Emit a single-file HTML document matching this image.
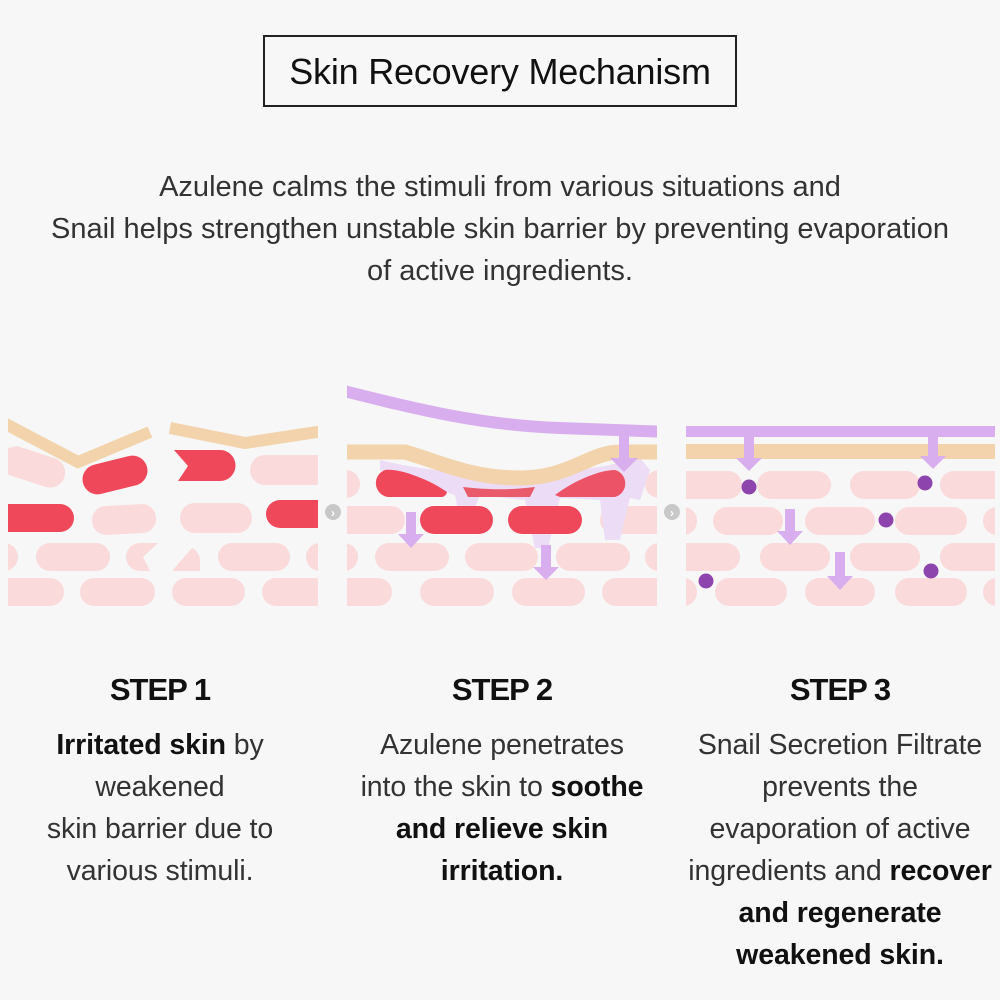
<!DOCTYPE html>
<html><head><meta charset="utf-8"><style>
html,body{margin:0;padding:0;background:#f7f7f7;}
body{width:1000px;height:1000px;position:relative;overflow:hidden;font-family:"Liberation Sans","DejaVu Sans",sans-serif;color:#222;}
.title{position:absolute;left:263px;top:35px;width:470px;height:68px;border:2px solid #222;box-sizing:content-box;text-align:center;line-height:70px;font-size:36px;letter-spacing:-0.2px;color:#111;}
.para{position:absolute;left:-50px;width:1100px;top:166px;text-align:center;font-size:29px;line-height:42px;letter-spacing:0px;color:#333;}
.step{position:absolute;top:668px;width:360px;text-align:center;}
.step h2{margin:0;font-size:31px;font-weight:bold;letter-spacing:-1px;color:#111;line-height:44px;}
.step p{margin:12px 0 0;font-size:28.5px;line-height:42px;letter-spacing:-0.1px;color:#333;}
.step b{color:#111;}
svg{position:absolute;left:0;top:0;}
</style></head><body>
<div class="title">Skin Recovery Mechanism</div>
<div class="para">Azulene calms the stimuli from various situations and<br>Snail helps strengthen unstable skin barrier by preventing evaporation<br>of active ingredients.</div>

<svg width="1000" height="1000" viewBox="0 0 1000 1000">
<defs>
<clipPath id="c1"><rect x="8" y="380" width="310" height="230"/></clipPath>
<clipPath id="c2"><rect x="347" y="380" width="310" height="230"/></clipPath>
<clipPath id="c3"><rect x="686" y="380" width="309" height="230"/></clipPath>
</defs>
<g clip-path="url(#c1)">
<g fill="#fadada">
<rect x="0" y="452" width="66" height="30" rx="15" transform="rotate(18 33 467)"/>
<rect x="250" y="455" width="80" height="30" rx="15"/>
<rect x="92" y="505" width="64" height="29" rx="14" transform="rotate(-3 124 519)"/>
<rect x="180" y="503" width="72" height="30" rx="15"/>
<rect x="-10" y="543" width="28" height="28" rx="14"/>
<rect x="36" y="543" width="74" height="28" rx="14"/>
<path d="M140 543 H158 L143 557 L150 571 H140 A14 14 0 0 1 140 543Z"/>
<path d="M172 571 L192 548 A14 14 0 0 1 200 560 V571Z"/>
<rect x="218" y="543" width="72" height="28" rx="14"/>
<rect x="306" y="543" width="30" height="28" rx="14"/>
<rect x="-10" y="578" width="74" height="28" rx="14"/>
<rect x="80" y="578" width="75" height="28" rx="14"/>
<rect x="172" y="578" width="73" height="28" rx="14"/>
<rect x="262" y="578" width="74" height="28" rx="14"/>
</g>
<g fill="#f0485b">
<rect x="82" y="460" width="66" height="30" rx="15" transform="rotate(-14 115 475)"/>
<path d="M174 450 H220 A15 15 0 0 1 220 481 H178 L188 466Z"/>
<rect x="-10" y="504" width="84" height="28" rx="14"/>
<rect x="266" y="500" width="70" height="28" rx="14"/>
</g>
<polyline points="0,421 78,462 150,432" fill="none" stroke="#f3d3ab" stroke-width="12"/>
<polyline points="170,428 245,443 330,430" fill="none" stroke="#f3d3ab" stroke-width="12"/>
</g>
<circle cx="333" cy="512" r="8" fill="#c8c8c8"/><text x="333" y="517" font-size="12" fill="#fff" text-anchor="middle" font-weight="bold">›</text>
<g clip-path="url(#c2)">
<g fill="#fadada">
<rect x="330" y="470" width="30" height="28" rx="14"/>
<rect x="645" y="470" width="40" height="28" rx="14"/>
<rect x="330" y="506" width="75" height="28" rx="14"/>
<rect x="600" y="506" width="75" height="28" rx="14"/>
<rect x="330" y="543" width="28" height="28" rx="14"/>
<rect x="375" y="543" width="74" height="28" rx="14"/>
<rect x="465" y="543" width="73" height="28" rx="14"/>
<rect x="556" y="543" width="74" height="28" rx="14"/>
<rect x="645" y="543" width="40" height="28" rx="14"/>
<rect x="330" y="578" width="62" height="28" rx="14"/>
<rect x="420" y="578" width="74" height="28" rx="14"/>
<rect x="512" y="578" width="73" height="28" rx="14"/>
<rect x="602" y="578" width="74" height="28" rx="14"/>
</g>
<path d="M380 460 C450 478 560 480 640 458 L650 470 L640 500 L630 498 L620 540 L605 540 L600 500 L560 498 L548 548 L535 548 L525 500 L480 495 L470 520 L460 520 L455 495 L380 470Z" fill="#ecdcf5"/>
<g fill="#f0485b">
<path d="M385 470 C400 468 430 480 447 492 A6 6 0 0 1 442 497 H388 A14 14 0 0 1 385 470Z"/>
<path d="M463 487 C490 490 510 490 535 487 L530 497 H468Z" fill="#e95a6a"/>
<path d="M555 495 C575 480 600 470 615 470 A14 14 0 0 1 615 497 H560Z" fill="#ec5366"/>
<rect x="420" y="506" width="73" height="28" rx="14"/>
<rect x="508" y="506" width="74" height="28" rx="14"/>
</g>
<path d="M340 452 H405 C440 462 470 478 520 478 C570 478 590 452 620 452 H670" fill="none" stroke="#f3d3ab" stroke-width="15"/>
<path d="M340 390 C420 410 480 425 560 428 L670 432" fill="none" stroke="#d8aeee" stroke-width="12"/>
<g fill="#d8aeee">
<rect x="619" y="432" width="10" height="28"/><polygon points="610,458 638,458 624,472"/>
<rect x="406" y="512" width="10" height="24"/><polygon points="398,534 424,534 411,548"/>
<rect x="541" y="545" width="10" height="24"/><polygon points="533,567 559,567 546,580"/>
</g>
</g>
<circle cx="672" cy="512" r="8" fill="#c8c8c8"/><text x="672" y="517" font-size="12" fill="#fff" text-anchor="middle" font-weight="bold">›</text>
<g clip-path="url(#c3)">
<g fill="#fadada">
<rect x="670" y="471" width="72" height="28" rx="14"/>
<rect x="757" y="471" width="74" height="28" rx="14"/>
<rect x="850" y="471" width="70" height="28" rx="14"/>
<rect x="940" y="471" width="70" height="28" rx="14"/>
<rect x="670" y="507" width="27" height="28" rx="14"/>
<rect x="713" y="507" width="70" height="28" rx="14"/>
<rect x="805" y="507" width="70" height="28" rx="14"/>
<rect x="895" y="507" width="72" height="28" rx="14"/>
<rect x="983" y="507" width="30" height="28" rx="14"/>
<rect x="670" y="543" width="70" height="28" rx="14"/>
<rect x="760" y="543" width="70" height="28" rx="14"/>
<rect x="850" y="543" width="70" height="28" rx="14"/>
<rect x="940" y="543" width="70" height="28" rx="14"/>
<rect x="670" y="578" width="27" height="28" rx="14"/>
<rect x="715" y="578" width="72" height="28" rx="14"/>
<rect x="805" y="578" width="70" height="28" rx="14"/>
<rect x="895" y="578" width="72" height="28" rx="14"/>
<rect x="983" y="578" width="30" height="28" rx="14"/>
</g>
<rect x="686" y="444" width="309" height="15" fill="#f3d3ab"/>
<rect x="686" y="426" width="309" height="11" fill="#d8aeee"/>
<g fill="#d8aeee">
<rect x="744" y="437" width="10" height="22"/><polygon points="736,458 762,458 749,471"/>
<rect x="928" y="437" width="10" height="20"/><polygon points="920,456 946,456 933,469"/>
<rect x="785" y="509" width="10" height="24"/><polygon points="777,531 803,531 790,545"/>
<rect x="835" y="552" width="10" height="26"/><polygon points="827,576 853,576 840,590"/>
</g>
<g fill="#8e44ad">
<circle cx="749" cy="487" r="7.5"/><circle cx="925" cy="483" r="7.5"/><circle cx="886" cy="520" r="7.5"/><circle cx="931" cy="571" r="7.5"/><circle cx="706" cy="581" r="7.5"/>
</g>
</g>
</svg>

<div class="step" style="left:-20px"><h2>STEP 1</h2><p><b>Irritated skin</b> by<br>weakened<br>skin barrier due to<br>various stimuli.</p></div>
<div class="step" style="left:322px"><h2>STEP 2</h2><p>Azulene penetrates<br>into the skin to <b>soothe<br>and relieve skin<br>irritation.</b></p></div>
<div class="step" style="left:660px"><h2>STEP 3</h2><p>Snail Secretion Filtrate<br>prevents the<br>evaporation of active<br>ingredients and <b>recover<br>and regenerate<br>weakened skin.</b></p></div>
</body></html>
